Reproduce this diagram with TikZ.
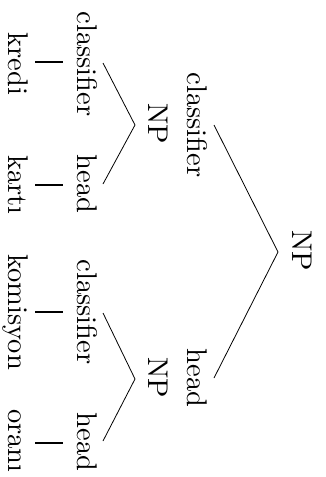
\documentclass[tikz,border=0pt]{standalone}
\usepackage{fontspec}
\newfontfamily\treefont{lmroman10-regular}[Extension=.otf]
\begin{document}
\begin{tikzpicture}[x=1pt,y=-1pt,
  lbl/.style={rotate=-90,anchor=base,inner sep=0pt,font=\treefont\fontsize{28.5}{34}\selectfont},
  edge/.style={line width=0.8pt},
  bar/.style={line width=2pt}]
\useasboundingbox (0,0) rectangle (326,477);
% root
\node[lbl] (root) at (292,251) {NP};
\coordinate (rootapex) at (278,252);
% level 1
\node[lbl] (cl1) at (187,125) {classifier};
\node[lbl] (np1) at (148,124) {NP};
\node[lbl] (hd1) at (187,378) {head};
\node[lbl] (np2) at (148,378) {NP};
\coordinate (cl1top) at (214,125);
\coordinate (hd1top) at (214,378);
\coordinate (np1apex) at (135,125);
\coordinate (np2apex) at (135,379);
% level 2
\node[lbl] (cl2) at (77,64) {classifier};
\node[lbl] (hd2) at (77,184) {head};
\node[lbl] (cl3) at (77,312) {classifier};
\node[lbl] (hd3) at (77,442) {head};
\coordinate (cl2top) at (103,63);
\coordinate (hd2top) at (103,184);
\coordinate (cl3top) at (103,313);
\coordinate (hd3top) at (103,441);
% words
\node[lbl] (w1) at (9,64) {kredi};
\node[lbl] (w2) at (9,185) {kartı};
\node[lbl] (w3) at (9,312) {komisyon};
\node[lbl] (w4) at (9,441) {oranı};
\coordinate (b1a) at (35,62); \coordinate (b1b) at (63,62);
\coordinate (b2a) at (35,185); \coordinate (b2b) at (63,185);
\coordinate (b3a) at (35,312); \coordinate (b3b) at (63,312);
\coordinate (b4a) at (35,443); \coordinate (b4b) at (63,443);
% edges
\draw[edge] (cl1top) -- (rootapex) -- (hd1top);
\draw[edge] (cl2top) -- (np1apex) -- (hd2top);
\draw[edge] (cl3top) -- (np2apex) -- (hd3top);
\draw[bar] (b1a) -- (b1b);
\draw[bar] (b2a) -- (b2b);
\draw[bar] (b3a) -- (b3b);
\draw[bar] (b4a) -- (b4b);
\end{tikzpicture}
\end{document}
